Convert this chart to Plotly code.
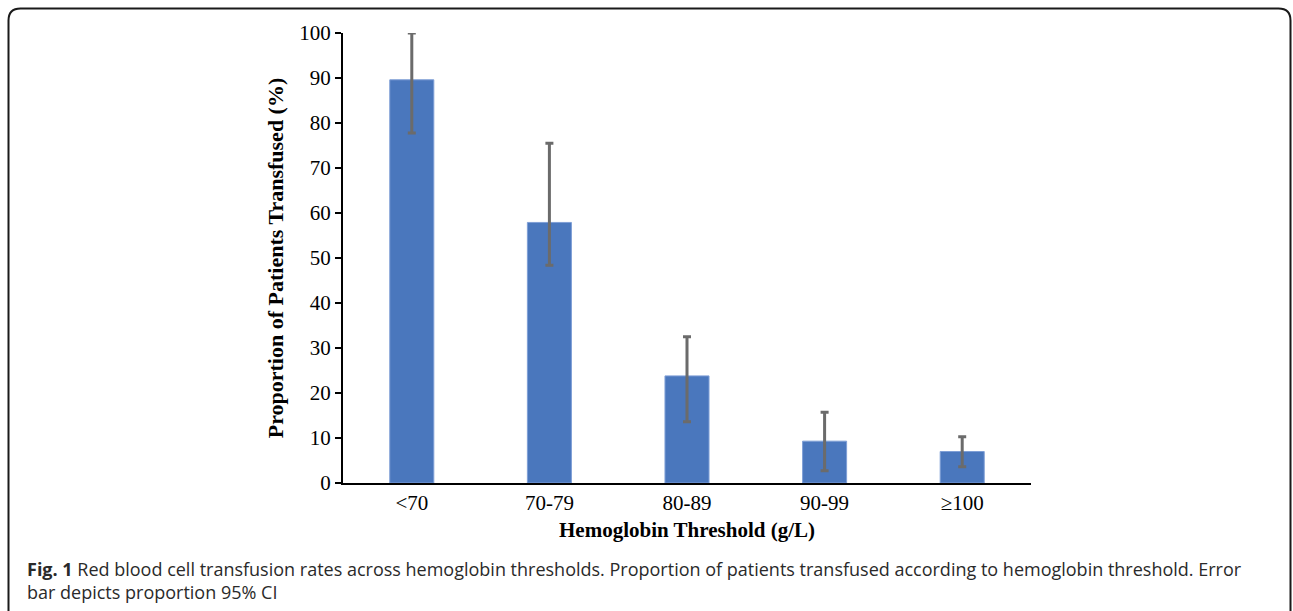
import plotly.graph_objects as go

categories = ["<70", "70-79", "80-89", "90-99", "≥100"]
proportions = [89.6, 57.9, 23.8, 9.3, 7.0]
ci_upper = [100.0, 75.5, 32.5, 15.7, 10.3]
ci_lower = [77.8, 48.4, 13.6, 2.7, 3.6]

err_plus = [u - v for u, v in zip(ci_upper, proportions)]
err_minus = [v - l for v, l in zip(proportions, ci_lower)]

W, H = 1293, 611
L, R, T, B = 343, 1031, 33, 483


def px(x):
    return (x - L) / (R - L)


def py(y):
    return (B - y) / (B - T)


fig = go.Figure()
fig.add_trace(go.Bar(
    x=categories, y=proportions, width=0.32,
    marker=dict(color="#4a77bd", line=dict(color="#7f9fd6", width=1)),
    error_y=dict(type="data", symmetric=False, array=err_plus, arrayminus=err_minus,
                 color="#6b6b6b", thickness=3, width=4),
    showlegend=False,
))

serif = "Liberation Serif, Times New Roman, serif"
sans = "Open Sans, Noto Sans, sans-serif"

# rounded frame
bl, bt, br, bb, r = 8.5, 8.5, 1290.5, 625, 12
path = (f"M {px(bl)} {py(bb)} L {px(bl)} {py(bt + r)} Q {px(bl)} {py(bt)} {px(bl + r)} {py(bt)} "
        f"L {px(br - r)} {py(bt)} Q {px(br)} {py(bt)} {px(br)} {py(bt + r)} L {px(br)} {py(bb)}")

fig.update_layout(
    width=W, height=H,
    margin=dict(l=L, r=W - R, t=T, b=H - B),
    plot_bgcolor="white", paper_bgcolor="white",
    font=dict(family=serif, color="#000000"),
    xaxis=dict(
        showline=True, linecolor="#000000", linewidth=2,
        ticks="", tickfont=dict(family=serif, size=21, color="#000"),
        title=dict(text="<b>Hemoglobin Threshold (g/L)</b>", font=dict(family=serif, size=21), standoff=8),
    ),
    yaxis=dict(
        range=[0, 100], dtick=10, showgrid=False, zeroline=False,
        showline=True, linecolor="#000000", linewidth=2,
        ticks="outside", ticklen=6, tickwidth=2, tickcolor="#000",
        tickfont=dict(family=serif, size=21, color="#000"),
        title=dict(text="<b>Proportion of Patients Transfused (%)</b>", font=dict(family=serif, size=22), standoff=10),
    ),
    shapes=[dict(type="path", xref="paper", yref="paper", path=path,
                 line=dict(color="#1a1a1a", width=2))],
    annotations=[
        dict(xref="paper", yref="paper", x=px(25), y=py(569), xanchor="left", yanchor="middle",
             align="left", showarrow=False,
             text="<b>Fig. 1</b> Red blood cell transfusion rates across hemoglobin thresholds. Proportion of patients transfused according to hemoglobin threshold. Error",
             font=dict(family=sans, size=18, color="#2a2a2a")),
        dict(xref="paper", yref="paper", x=px(25), y=py(592), xanchor="left", yanchor="middle",
             align="left", showarrow=False,
             text="bar depicts proportion 95% CI",
             font=dict(family=sans, size=18, color="#2a2a2a")),
    ],
)

fig.write_html("out.html", config={"displayModeBar": False},
               post_script="document.body.style.margin='0px';document.body.style.overflow='hidden';")
